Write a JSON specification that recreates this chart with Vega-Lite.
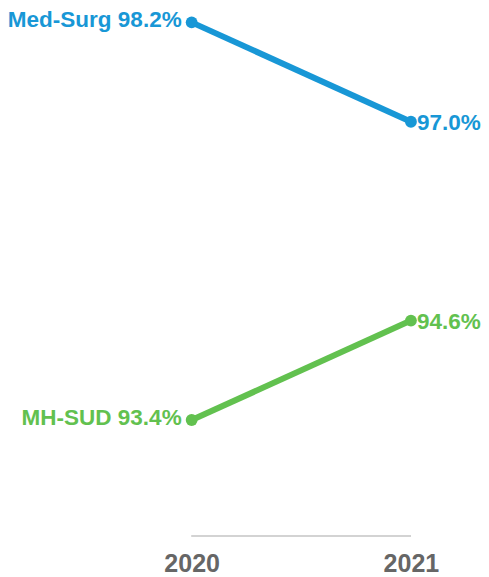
{
  "$schema": "https://vega.github.io/schema/vega-lite/v6.json",
  "width": 489,
  "height": 536,
  "autosize": "none",
  "padding": {"top": 0, "left": 0, "right": 0, "bottom": 41},
  "background": "white",
  "config": {"view": {"stroke": null}},
  "data": {"values": [
    {"series": "Med-Surg", "year": 2020, "value": 98.2, "label": "Med-Surg 98.2%"},
    {"series": "Med-Surg", "year": 2021, "value": 97.0, "label": "97.0%"},
    {"series": "MH-SUD", "year": 2020, "value": 93.4, "label": "MH-SUD 93.4%"},
    {"series": "MH-SUD", "year": 2021, "value": 94.6, "label": "94.6%"}
  ]},
  "encoding": {
    "x": {"field": "year", "type": "quantitative", "scale": {"domain": [2019.126, 2021.356], "nice": false, "zero": false},
      "axis": {"values": [2020, 2021], "format": "d", "title": null, "domain": false, "ticks": false, "grid": false,
        "labelFont": "Liberation Sans", "labelFontSize": 25, "labelFontWeight": "bold", "labelColor": "#666666", "labelPadding": 15}},
    "y": {"field": "value", "type": "quantitative", "scale": {"domain": [92, 98.47], "nice": false, "zero": false}, "axis": null},
    "color": {"field": "series", "type": "nominal", "scale": {"domain": ["Med-Surg", "MH-SUD"], "range": ["#1897D6", "#62C14F"]}, "legend": null}
  },
  "layer": [
    {"mark": {"type": "rule", "color": "#d3d3d3", "strokeWidth": 2},
     "encoding": {"x": {"datum": 2020, "type": "quantitative"}, "x2": {"datum": 2021}, "y": {"datum": 92, "type": "quantitative"}, "color": {"value": "#d3d3d3"}}},
    {"mark": {"type": "line", "strokeWidth": 6}, "encoding": {"detail": {"field": "series"}}},
    {"mark": {"type": "point", "filled": true, "opacity": 1, "size": 140}},
    {"transform": [{"filter": "datum.year === 2020"}],
     "mark": {"type": "text", "align": "right", "baseline": "middle", "dx": -10, "dy": -2, "font": "Liberation Sans", "fontSize": 22.5, "fontWeight": "bold"},
     "encoding": {"text": {"field": "label"}}},
    {"transform": [{"filter": "datum.year === 2021"}],
     "mark": {"type": "text", "align": "left", "baseline": "middle", "dx": 6, "dy": 1, "font": "Liberation Sans", "fontSize": 22.5, "fontWeight": "bold"},
     "encoding": {"text": {"field": "label"}}}
  ]
}
